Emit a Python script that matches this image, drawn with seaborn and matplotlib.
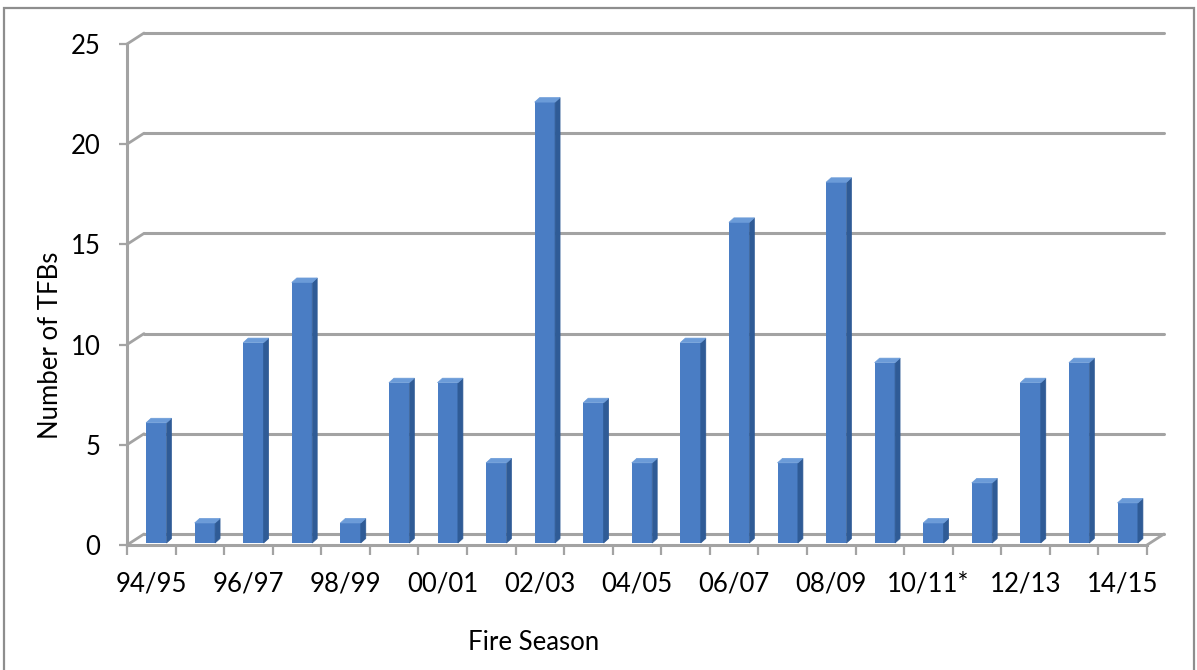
import numpy as np
import pandas as pd
import seaborn as sns
import matplotlib
matplotlib.use("Agg")
import matplotlib.pyplot as plt
import matplotlib.transforms as mtransforms
from matplotlib.patches import Polygon, Rectangle, ConnectionPatch

# ---- data -------------------------------------------------------------
seasons = ["94/95", "95/96", "96/97", "97/98", "98/99", "99/00", "00/01",
           "01/02", "02/03", "03/04", "04/05", "05/06", "06/07", "07/08",
           "08/09", "09/10", "10/11*", "11/12", "12/13", "13/14", "14/15"]
tfbs = [6, 1, 10, 13, 1, 8, 8, 4, 22, 7, 4, 10, 16, 4, 18, 9, 1, 3, 8, 9, 2]
y_ticks = [0, 5, 10, 15, 20, 25]

# ---- style ------------------------------------------------------------
sns.set_theme(style="white")
plt.rcParams["font.family"] = ["Lato", "DejaVu Sans"]

FRONT = "#4a7dc4"
SIDE = "#2f5b96"
TOP = "#6b9bd8"
GRID = "#a3a3a3"
TXT = "#000000"
FS = 18.5

W, H, DPI = 1197, 670, 100
fig = plt.figure(figsize=(W / DPI, H / DPI), dpi=DPI)
fig.patch.set_facecolor("white")

# chart frame (runs off the bottom of the canvas)
fig.patches.append(Rectangle((4 / W, -0.1), 1190 / W, 1.1 - 8 / H,
                             transform=fig.transFigure, fill=False,
                             edgecolor="#8e8e8e", linewidth=1.6))

ax = fig.add_axes([127 / W, 125 / H, 1020 / W, 501 / H])
ax.set_facecolor("none")

df = pd.DataFrame({"season": seasons, "tfbs": tfbs})
sns.barplot(data=df, x="season", y="tfbs", color=FRONT, saturation=1,
            width=0.42, ax=ax, zorder=4, linewidth=0)
bars = list(ax.patches)

n = len(seasons)
ax.set_xlim(-0.5, n - 0.5)
ax.set_ylim(0, 25)

# depth of the back wall and of each column, in pixels
WALL_DX, WALL_DY = 17, 11
BAR_OFF_DX, BAR_OFF_DY = 5, 2
BAR_DX, BAR_DY = 5, 4.5

wall = mtransforms.offset_copy(ax.transData, fig=fig, x=WALL_DX, y=WALL_DY,
                               units="dots")

# back-wall gridlines with their slanted joins to the value axis
for v in y_ticks:
    ax.plot([-0.5, n - 0.5], [v, v], transform=wall, color=GRID, lw=2.2,
            zorder=1, clip_on=False, solid_capstyle="round")
    ax.add_artist(ConnectionPatch((-0.5, v), (-0.5, v), coordsA=ax.transData,
                                  coordsB=wall, color=GRID, lw=2.0,
                                  zorder=1, clip_on=False))
# right edge of the floor
ax.add_artist(ConnectionPatch((n - 0.5, 0), (n - 0.5, 0), coordsA=ax.transData,
                              coordsB=wall, color=GRID, lw=2.0, zorder=1,
                              clip_on=False))

# 3-D columns: shift the front faces into the floor and add top/side faces
bar_tr = mtransforms.offset_copy(ax.transData, fig=fig, x=BAR_OFF_DX,
                                 y=BAR_OFF_DY, units="dots")
ident = mtransforms.IdentityTransform()
for p in bars:
    x0, y0 = p.get_x(), p.get_y()
    x1, y1 = x0 + p.get_width(), y0 + p.get_height()
    p.set_transform(bar_tr)
    (ax0, ay0), (ax1, ay1) = bar_tr.transform([(x0, y0), (x1, y1)])
    side = [(ax1, ay0), (ax1 + BAR_DX, ay0 + BAR_DY),
            (ax1 + BAR_DX, ay1 + BAR_DY), (ax1, ay1)]
    top = [(ax0, ay1), (ax1, ay1), (ax1 + BAR_DX, ay1 + BAR_DY),
           (ax0 + BAR_DX, ay1 + BAR_DY)]
    ax.add_artist(Polygon(side, closed=True, transform=ident,
                          facecolor=SIDE, edgecolor=SIDE, lw=0.5, zorder=5))
    ax.add_artist(Polygon(top, closed=True, transform=ident,
                          facecolor=TOP, edgecolor=TOP, lw=0.5, zorder=5))

# ---- axes -------------------------------------------------------------
for s in ["top", "right"]:
    ax.spines[s].set_visible(False)
for s in ["left", "bottom"]:
    ax.spines[s].set_color(GRID)
    ax.spines[s].set_linewidth(2.2)
    ax.spines[s].set_zorder(2)

ax.set_yticks(y_ticks)
ax.set_yticklabels([str(v) for v in y_ticks])
ax.tick_params(axis="y", direction="out", length=6, width=1.6, color=GRID,
               pad=13, labelsize=FS, labelcolor=TXT, left=True)

ax.set_xticks(np.arange(n))
ax.set_xticklabels([s if i % 2 == 0 else "" for i, s in enumerate(seasons)])
ax.set_xticks(np.arange(n + 1) - 0.5, minor=True)
ax.tick_params(axis="x", which="major", length=0, pad=19, labelsize=FS,
               labelcolor=TXT)
ax.tick_params(axis="x", which="minor", direction="out", length=7, width=1.6,
               color=GRID, bottom=True)

ax.set_xlabel("Fire Season", fontsize=FS, color=TXT, va="center")
ax.xaxis.set_label_coords((534 - 127) / 1020, (545 - 642) / 501)
ax.set_ylabel("Number of TFBs", fontsize=FS, color=TXT, va="center")
ax.yaxis.set_label_coords((50 - 127) / 1020, (545 - 345) / 501)

fig.savefig("out.png", dpi=DPI, facecolor="white")
